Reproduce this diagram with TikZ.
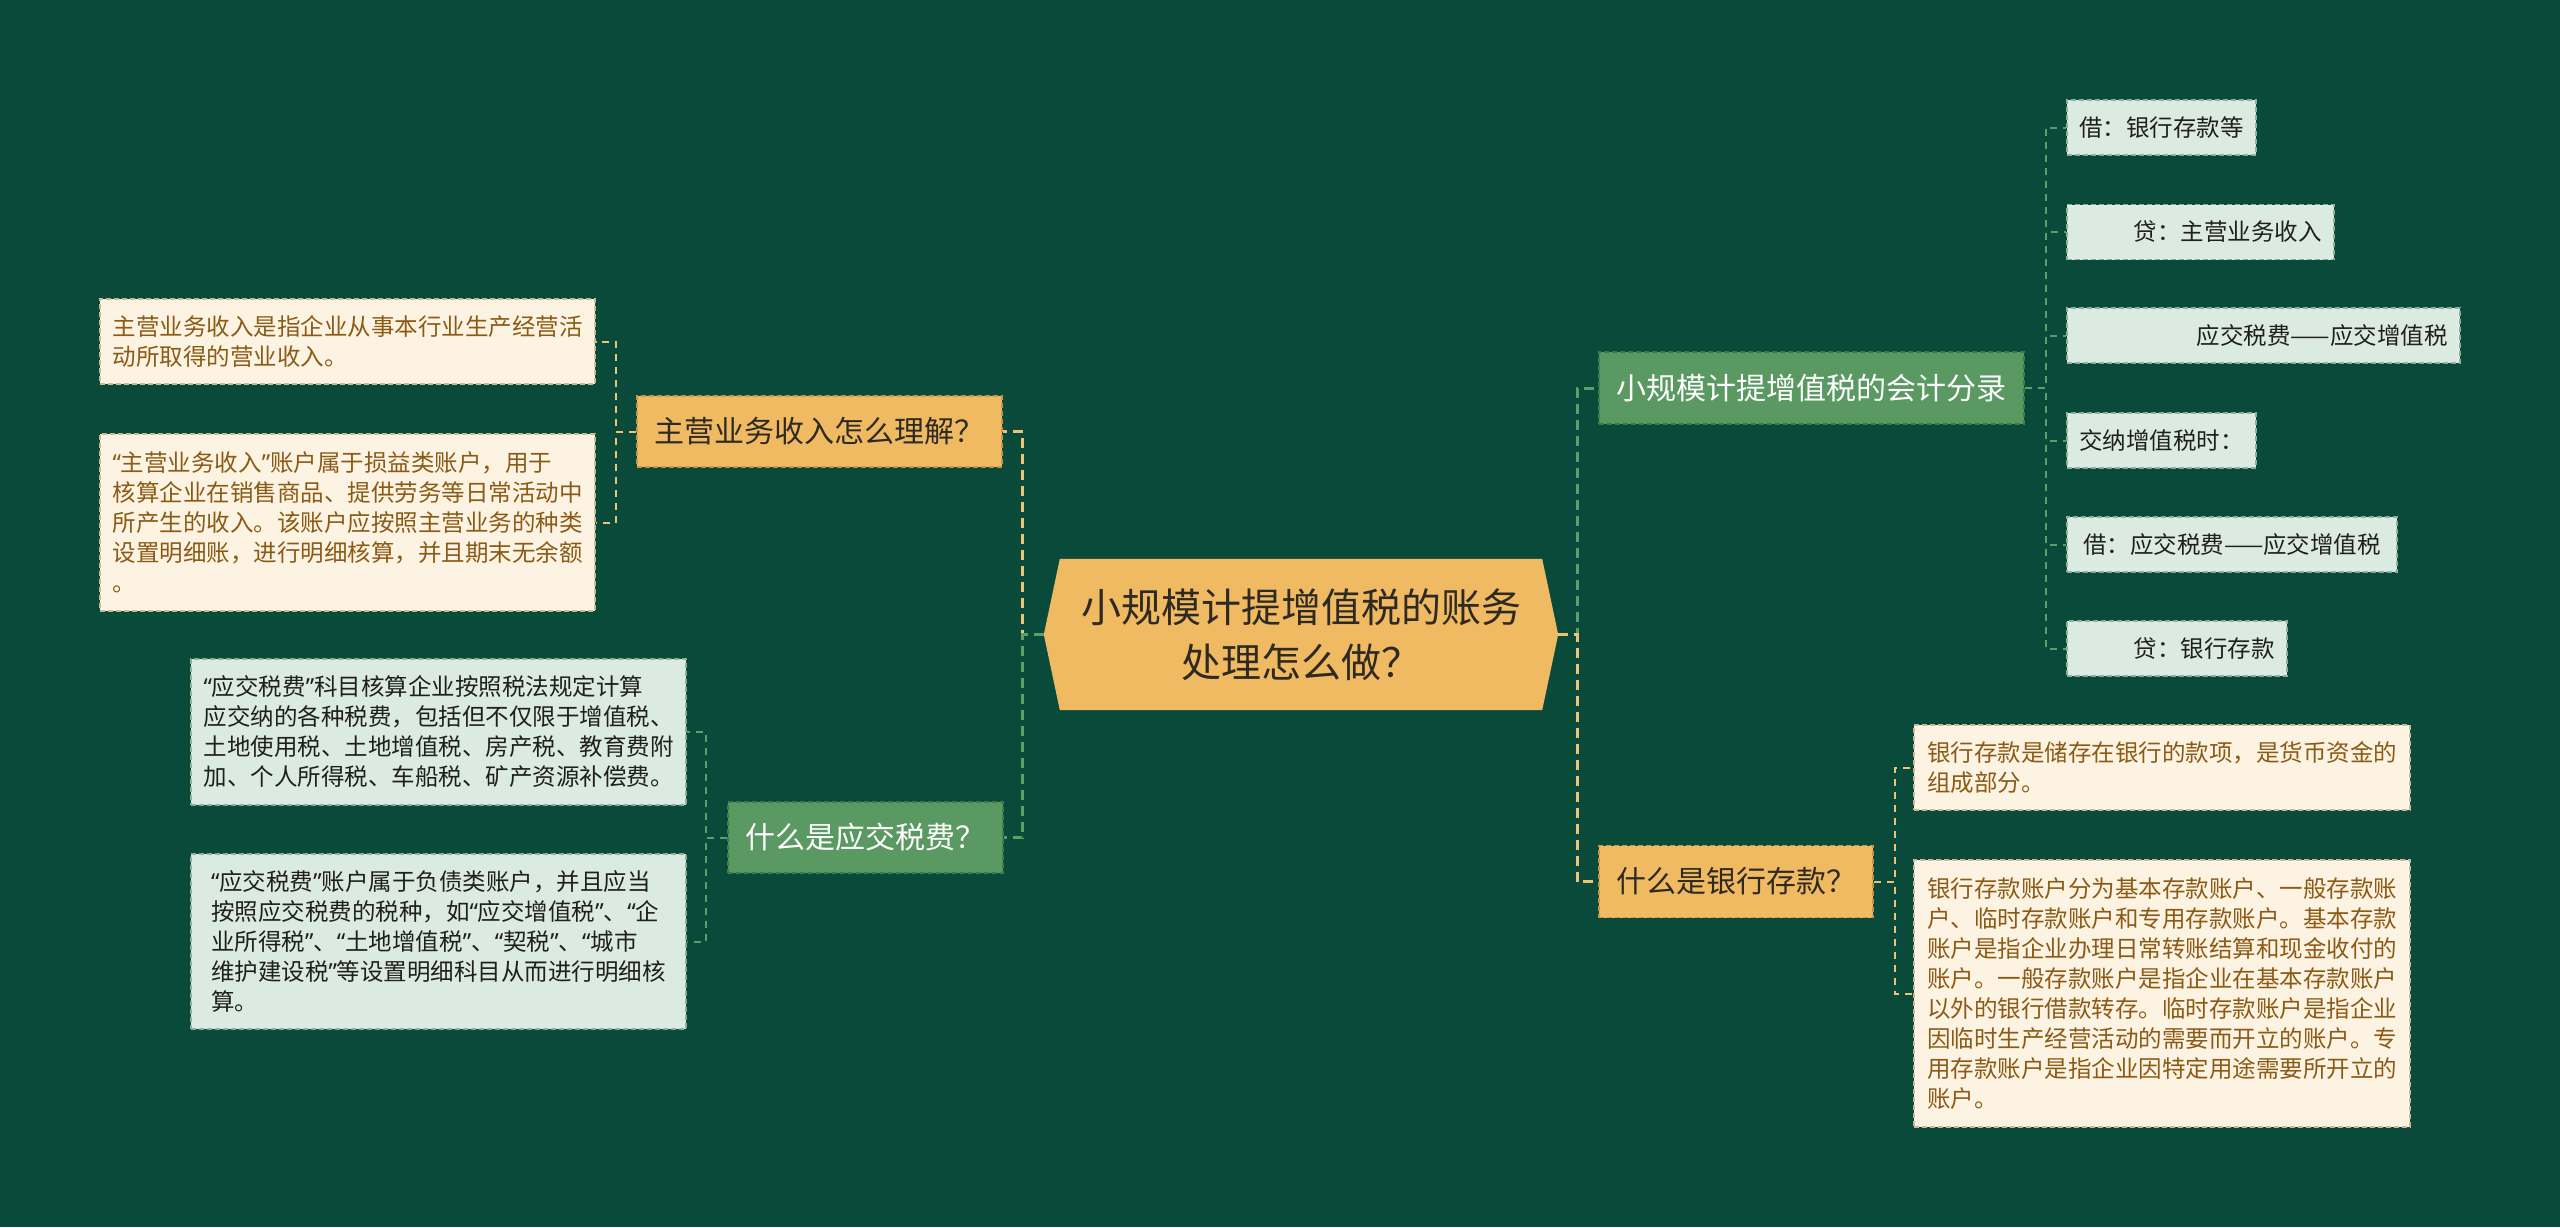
\documentclass[tikz,border=0pt]{standalone}
\usepackage{fontspec}
\newfontfamily\cjk{Noto Sans CJK SC}
\newfontfamily\latq{Noto Sans}
\newcommand{\myoq}{{\latq “}}
\newcommand{\mycq}{{\latq ”}}
\usetikzlibrary{backgrounds}
\pgfdeclarelayer{canvas}
\pgfsetlayers{canvas,background,main}
\definecolor{bgc}{HTML}{094A3A}
\definecolor{orf}{HTML}{F0BA62}
\definecolor{ord}{HTML}{C99645}
\definecolor{grf}{HTML}{5B9963}
\definecolor{grd}{HTML}{3F7A4B}
\definecolor{mint}{HTML}{DCEBE1}
\definecolor{mintd}{HTML}{8FAF9A}
\definecolor{cream}{HTML}{FDF3E2}
\definecolor{creamd}{HTML}{CDB892}
\definecolor{brownt}{HTML}{8B5B16}
\definecolor{olinec}{HTML}{EBC477}
\definecolor{glinec}{HTML}{5E9E68}
\definecolor{darkt}{HTML}{2E2A22}
\tikzset{
  box/.style={rectangle, inner sep=0pt, line width=1.5pt, dash pattern=on 5pt off 3pt},
  brfont/.style={font=\cjk\fontsize{30pt}{36pt}\selectfont},
  lffont/.style={font=\cjk\fontsize{23.5pt}{30pt}\selectfont},
  obranch/.style={box, brfont, fill=orf, draw=ord, text=darkt, minimum height=71pt},
  gbranch/.style={box, brfont, fill=grf, draw=grd, text=white, minimum height=72pt},
  cleaf/.style={box, lffont, fill=cream, draw=creamd, text=brownt, align=left},
  mleaf/.style={box, lffont, fill=mint, draw=mintd, text=black!88, align=left, minimum height=55pt},
  rightleaf/.style={text width=#1, align=right, inner xsep=12.5pt},
  oedge/.style={draw=olinec, line width=3pt, dash pattern=on 10pt off 6pt},
  gedge/.style={draw=glinec, line width=3pt, dash pattern=on 10pt off 6pt},
  oleafedge/.style={draw=olinec, line width=2pt, dash pattern=on 7pt off 6pt},
  gleafedge/.style={draw=glinec, line width=2pt, dash pattern=on 7pt off 6pt},
}
\begin{document}
\begin{tikzpicture}[x=1pt, y=-1pt]
\useasboundingbox (0,0) rectangle (2560,1227);
\begin{pgfonlayer}{canvas}
  \fill[bgc] (0,0) rectangle (2560,1227);
\end{pgfonlayer}

% central node
\node[minimum width=514pt, minimum height=151pt, inner sep=0pt, align=center,
      font=\cjk\fontsize{40pt}{55pt}\selectfont, text=darkt] (C) at (1301,634.5)
      {小规模计提增值税的账务\\处理怎么做？};

% branches
\node[obranch, minimum width=365pt] (OL) at (819.5,431.5) {主营业务收入怎么理解？};
\node[gbranch, minimum width=275pt, minimum height=71pt] (GL) at (865.5,837.5) {什么是应交税费？};
\node[gbranch, minimum width=425pt] (GR) at (1811.5,388) {小规模计提增值税的会计分录};
\node[obranch, minimum width=274pt, minimum height=72pt] (OR) at (1736,881.5) {什么是银行存款？};

% left leaves
\node[cleaf, minimum width=495pt, minimum height=85pt] (L1a) at (347.5,341.5)
  {主营业务收入是指企业从事本行业生产经营活\\动所取得的营业收入。};
\node[cleaf, minimum width=495pt, minimum height=177pt] (L1b) at (347.5,522.5)
  {\myoq 主营业务收入\mycq 账户属于损益类账户，用于\\核算企业在销售商品、提供劳务等日常活动中\\所产生的收入。该账户应按照主营业务的种类\\设置明细账，进行明细核算，并且期末无余额\\。};
\node[mleaf, minimum width=495pt, minimum height=146pt] (L2a) at (438.5,732)
  {\myoq 应交税费\mycq 科目核算企业按照税法规定计算\\应交纳的各种税费，包括但不仅限于增值税、\\土地使用税、土地增值税、房产税、教育费附\\加、个人所得税、车船税、矿产资源补偿费。};
\node[mleaf, minimum width=495pt, minimum height=175pt] (L2b) at (438.5,941.5)
  {\myoq 应交税费\mycq 账户属于负债类账户，并且应当\\按照应交税费的税种，如\myoq 应交增值税\mycq 、\myoq 企\\业所得税\mycq 、\myoq 土地增值税\mycq 、\myoq 契税\mycq 、\myoq 城市\\维护建设税\mycq 等设置明细科目从而进行明细核\\算。};

% right-top leaves
\node[mleaf, minimum width=189pt] (R1) at (2161.5,127.5) {借：银行存款等};
\node[mleaf, rightleaf=242pt] (R2) at (2200.5,232) {贷：主营业务收入};
\node[mleaf, rightleaf=368pt] (R3) at (2263.5,335.5) {应交税费——应交增值税};
\node[mleaf, minimum width=189pt] (R4) at (2161.5,440.5) {交纳增值税时：};
\node[mleaf, minimum width=330pt] (R5) at (2232,544.5) {借：应交税费——应交增值税};
\node[mleaf, rightleaf=195pt] (R6) at (2177,648.5) {贷：银行存款};

% right-bottom leaves
\node[cleaf, minimum width=496pt, minimum height=85pt] (B1) at (2162,767.5)
  {银行存款是储存在银行的款项，是货币资金的\\组成部分。};
\node[cleaf, minimum width=496pt, minimum height=267pt] (B2) at (2162,993.5)
  {银行存款账户分为基本存款账户、一般存款账\\户、临时存款账户和专用存款账户。基本存款\\账户是指企业办理日常转账结算和现金收付的\\账户。一般存款账户是指企业在基本存款账户\\以外的银行借款转存。临时存款账户是指企业\\因临时生产经营活动的需要而开立的账户。专\\用存款账户是指企业因特定用途需要所开立的\\账户。};

\begin{pgfonlayer}{background}
  % hexagon
  \fill[orf] (C.west) -- ([xshift=16pt]C.north west) -- ([xshift=-16pt]C.north east)
     -- (C.east) -- ([xshift=-16pt]C.south east) -- ([xshift=16pt]C.south west) -- cycle;
  % main connectors
  \draw[oedge] (C.west) -- ++(-21,0) |- (OL.east);
  \draw[gedge] (C.west) -- ++(-21,0) |- (GL.east);
  \draw[gedge] (C.east) -- ++(19,0) |- (GR.west);
  \draw[oedge] (C.east) -- ++(19,0) |- (OR.west);
  % leaf connectors
  \draw[oleafedge] (OL.west) -- ++(-20,0) |- (L1a.east);
  \draw[oleafedge] (OL.west) -- ++(-20,0) |- (L1b.east);
  \draw[gleafedge] (GL.west) -- ++(-21,0) |- (L2a.east);
  \draw[gleafedge] (GL.west) -- ++(-21,0) |- (L2b.east);
  \foreach \n in {R1,R2,R3,R4,R5,R6}
    \draw[gleafedge] (GR.east) -- ++(21,0) |- (\n.west);
  \draw[oleafedge] (OR.east) -- ++(21,0) |- (B1.west);
  \draw[oleafedge] (OR.east) -- ++(21,0) |- (B2.west);
\end{pgfonlayer}
\end{tikzpicture}
\end{document}
